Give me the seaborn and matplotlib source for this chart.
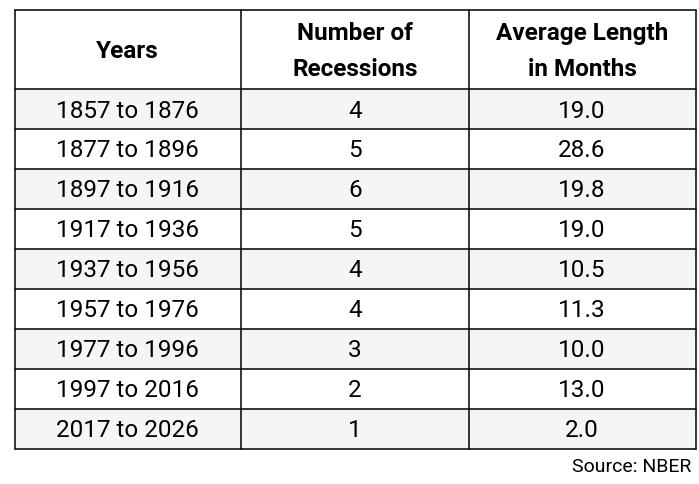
import matplotlib
matplotlib.use("Agg")
import matplotlib.pyplot as plt
import seaborn as sns

# Table data
years = ["1857 to 1876", "1877 to 1896", "1897 to 1916", "1917 to 1936", "1937 to 1956",
         "1957 to 1976", "1977 to 1996", "1997 to 2016", "2017 to 2026"]
recessions = [4, 5, 6, 5, 4, 4, 3, 2, 1]
avg_length = [19.0, 28.6, 19.8, 19.0, 10.5, 11.3, 10.0, 13.0, 2.0]
headers = ["Years", "Number of\nRecessions", "Average Length\nin Months"]
source = "Source: NBER"

sns.set_style("white")
plt.rcParams['font.family'] = ['Roboto', 'DejaVu Sans']

fig = plt.figure(figsize=(6.99, 4.85), dpi=100)
ax = fig.add_axes([0, 0, 1, 1])
ax.set_xlim(0, 699)
ax.set_ylim(485, 0)
ax.axis("off")

# layout in pixel units
col_edges = [14.5, 241, 468.5, 695.5]
top, head_bottom, row_h = 10.5, 90, 40
n = len(years)
bottom = head_bottom + n * row_h
col_centers = [(col_edges[i] + col_edges[i + 1]) / 2 for i in range(3)]

# zebra shading
for i in range(n):
    if i % 2 == 0:
        y0 = head_bottom + i * row_h
        ax.fill_between([col_edges[0], col_edges[-1]], y0, y0 + row_h, color="#f5f5f5", lw=0, zorder=0)

# grid lines
for x in col_edges:
    ax.plot([x, x], [top, bottom], color="black", lw=1.1, zorder=2)
for y in [top, head_bottom] + [head_bottom + (i + 1) * row_h for i in range(n)]:
    ax.plot([col_edges[0], col_edges[-1]], [y, y], color="black", lw=1.1, zorder=2)

# header
for j, h in enumerate(headers):
    ax.text(col_centers[j], (top + head_bottom) / 2 + 1, h, ha="center", va="center",
            fontsize=17.5, fontweight="bold", linespacing=1.7, color="black")

# rows
for i in range(n):
    yc = head_bottom + i * row_h + row_h / 2 + 1
    vals = [years[i], str(recessions[i]), f"{avg_length[i]:.1f}"]
    for j, v in enumerate(vals):
        ax.text(col_centers[j], yc, v, ha="center", va="center", fontsize=17.5, color="black")

ax.text(691, 467, source, ha="right", va="center", fontsize=14, color="black")

fig.savefig("out.png", dpi=100)
